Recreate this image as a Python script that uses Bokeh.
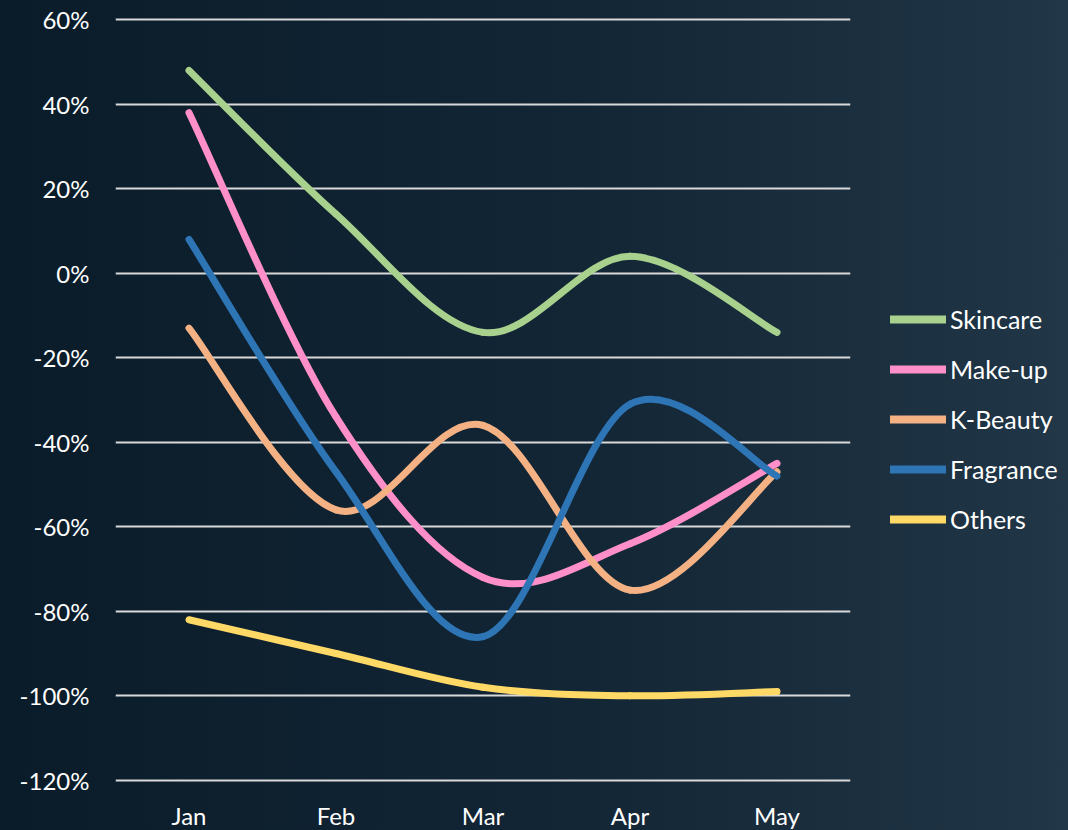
import math
from bokeh.plotting import figure
from bokeh.models import FixedTicker, Legend, LegendItem, ColumnDataSource
from bokeh.embed import file_html
from bokeh.resources import INLINE

months = ["Jan", "Feb", "Mar", "Apr", "May"]
skincare = [48, 14, -14, 4, -14]
makeup = [38, -34, -72, -64, -45]
kbeauty = [-13, -56, -36, -75, -47]
fragrance = [8, -47, -86, -31, -48]
others = [-82, -90, -98, -100, -99]

series_names = ["Skincare", "Make-up", "K-Beauty", "Fragrance", "Others"]
series_values = [skincare, makeup, kbeauty, fragrance, others]
colors = ["#a9d18e", "#ff8fc8", "#f4b183", "#2e75b6", "#ffd966"]
y_ticks = [-120, -100, -80, -60, -40, -20, 0, 20, 40, 60]

FONT = "Lato"

p = figure(frame_width=735, frame_height=769, output_backend="svg", toolbar_location=None,
           x_range=(-0.5, 4.5), y_range=(-121, 61),
           min_border_left=115, min_border_right=218, min_border_top=15, min_border_bottom=46)
p.styles = {"background-image": "linear-gradient(to right, #0a1c29 0%, #132636 40%, #1f3444 70%, #2a3e4f 80%, #2f4456 100%)"}
p.background_fill_alpha = 0
p.border_fill_alpha = 0
p.outline_line_color = None

p.xgrid.grid_line_color = None
p.ygrid.grid_line_color = "#d9d9d9"
p.ygrid.grid_line_width = 2
p.ygrid.ticker = FixedTicker(ticks=y_ticks)

p.yaxis.ticker = FixedTicker(ticks=y_ticks)
p.yaxis.major_label_overrides = {v: f"{v}%" for v in y_ticks}
p.xaxis.ticker = FixedTicker(ticks=list(range(len(months))))
p.xaxis.major_label_overrides = {i: m for i, m in enumerate(months)}
for ax in (p.xaxis, p.yaxis):
    ax.axis_line_color = None
    ax.major_tick_line_color = None
    ax.minor_tick_line_color = None
    ax.major_label_text_color = "white"
    ax.major_label_text_font = FONT
    ax.major_label_text_font_size = "24px"
p.yaxis.major_label_standoff = 20
p.xaxis.major_label_standoff = 10

def smooth_segments(vals):
    n = len(vals)
    xs = list(range(n))
    segs = dict(x0=[], y0=[], x1=[], y1=[], cx0=[], cy0=[], cx1=[], cy1=[])
    for i in range(n - 1):
        xm, ym = xs[max(i - 1, 0)], vals[max(i - 1, 0)]
        xa, ya = xs[i], vals[i]
        xb, yb = xs[i + 1], vals[i + 1]
        xp, yp = xs[min(i + 2, n - 1)], vals[min(i + 2, n - 1)]
        segs["x0"].append(xa); segs["y0"].append(ya)
        segs["x1"].append(xb); segs["y1"].append(yb)
        segs["cx0"].append(xa + (xb - xm) / 6); segs["cy0"].append(ya + (yb - ym) / 6)
        segs["cx1"].append(xb - (xp - xa) / 6); segs["cy1"].append(yb - (yp - ya) / 6)
    return segs

items = []
for name, vals, col in zip(series_names, series_values, colors):
    src = ColumnDataSource(smooth_segments(vals))
    p.bezier(x0="x0", y0="y0", x1="x1", y1="y1", cx0="cx0", cy0="cy0", cx1="cx1", cy1="cy1",
             source=src, line_color=col, line_width=7, line_cap="round")
    leg = p.line(x=[0], y=[vals[0]], line_color=col, line_width=8, line_cap="round")
    items.append(LegendItem(label=name, renderers=[leg]))

legend = Legend(items=items, location=(40, 250), background_fill_alpha=0, border_line_color=None,
                label_text_color="white", label_text_font=FONT, label_text_font_size="25px",
                glyph_width=56, glyph_height=20, label_height=20, spacing=20, label_standoff=4,
                padding=0, margin=0)
p.add_layout(legend, "right")

open("out.html", "w").write(file_html(p, INLINE))
